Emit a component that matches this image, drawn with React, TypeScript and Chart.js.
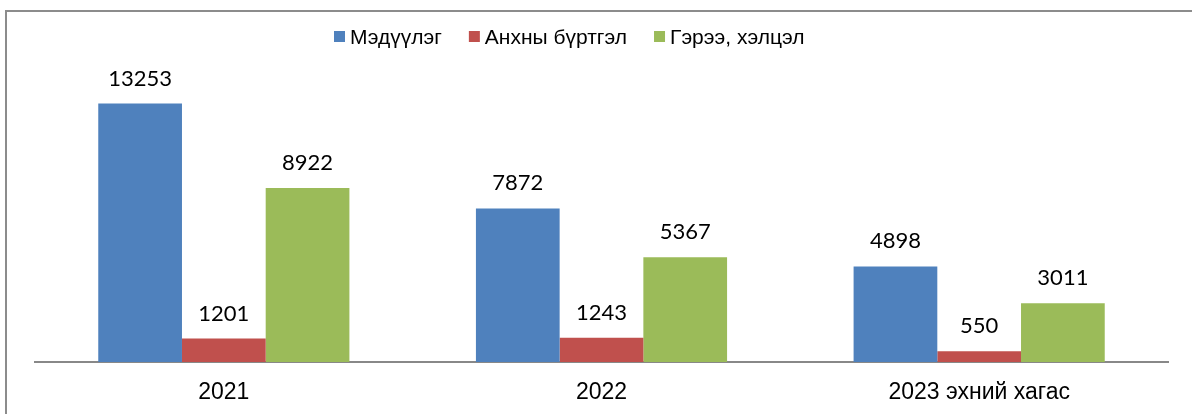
import React, { useEffect, useRef } from "react";
import { Chart, registerables } from "chart.js";

Chart.register(...registerables);

const categories = ["2021", "2022", "2023 эхний хагас"];
const seriesNames = ["Мэдүүлэг", "Анхны бүртгэл", "Гэрээ, хэлцэл"];
const medvuulegValues = [13253, 7872, 4898];
const anhnyBurtgelValues = [1201, 1243, 550];
const gereeHelcelValues = [8922, 5367, 3011];
const seriesColors = ["#4F81BD", "#C0504D", "#9BBB59"];
const yMin = 0;
const yMax = 15000;

const W = 1192;
const H = 414;

const valueLabelPlugin = {
  id: "valueLabels",
  afterDatasetsDraw(chart: any) {
    const ctx = chart.ctx;
    ctx.save();
    ctx.font = "22px Lato, 'Open Sans', sans-serif";
    ctx.fillStyle = "#000";
    ctx.textAlign = "center";
    ctx.textBaseline = "alphabetic";
    chart.data.datasets.forEach((ds: any, i: number) => {
      const meta = chart.getDatasetMeta(i);
      meta.data.forEach((el: any, j: number) => {
        ctx.fillText(String(ds.data[j]), el.x, el.y - 18);
      });
    });
    ctx.restore();
  },
};

const customLegendPlugin = {
  id: "customLegend",
  afterDraw(chart: any) {
    const ctx = chart.ctx;
    ctx.save();
    ctx.font = "21px 'Liberation Sans', Arial, sans-serif";
    ctx.textBaseline = "alphabetic";
    ctx.textAlign = "left";
    let x = 334;
    const boxTop = 31;
    const box = 11;
    const baseline = 44;
    chart.data.datasets.forEach((ds: any) => {
      ctx.fillStyle = ds.backgroundColor;
      ctx.fillRect(x, boxTop, box, box);
      ctx.fillStyle = "#000";
      const tx = x + 16;
      ctx.fillText(ds.label, tx, baseline);
      x = tx + ctx.measureText(ds.label).width + 27;
    });
    ctx.restore();
  },
};

export default function App() {
  const canvasRef = useRef<HTMLCanvasElement | null>(null);

  useEffect(() => {
    if (!canvasRef.current) return;
    const chart = new Chart(canvasRef.current, {
      type: "bar",
      data: {
        labels: categories,
        datasets: [
          { label: seriesNames[0], data: medvuulegValues, backgroundColor: seriesColors[0] },
          { label: seriesNames[1], data: anhnyBurtgelValues, backgroundColor: seriesColors[1] },
          { label: seriesNames[2], data: gereeHelcelValues, backgroundColor: seriesColors[2] },
        ],
      },
      options: {
        responsive: false,
        animation: false,
        devicePixelRatio: 1,
        layout: { padding: { left: 35, right: 24, top: 69.5, bottom: 0 } },
        datasets: {
          bar: { categoryPercentage: 0.665, barPercentage: 1.0 },
        },
        plugins: {
          legend: { display: false },
          tooltip: { enabled: false },
        },
        scales: {
          x: {
            grid: { display: false, drawTicks: false },
            border: { display: true, color: "#888888", width: 2 },
            ticks: {
              color: "#000",
              font: { family: "'Liberation Sans', Arial, sans-serif", size: 23 },
              padding: 17,
              maxRotation: 0,
              autoSkip: false,
            },
            afterFit: (scale: any) => {
              scale.height = 52;
            },
          },
          y: {
            display: false,
            min: yMin,
            max: yMax,
          },
        },
      },
      plugins: [valueLabelPlugin, customLegendPlugin],
    });
    return () => chart.destroy();
  }, []);

  return (
    <div style={{ position: "fixed", left: 0, top: 0, width: W, height: H, overflow: "hidden", background: "#fff" }}>
      <canvas
        ref={canvasRef}
        width={W}
        height={H}
        style={{ position: "absolute", left: 0, top: 0, width: W, height: H }}
      />
      <div
        style={{
          position: "absolute",
          left: 5,
          top: 10,
          width: 1400,
          height: 600,
          border: "2px solid #8c8c8c",
          pointerEvents: "none",
        }}
      />
    </div>
  );
}
